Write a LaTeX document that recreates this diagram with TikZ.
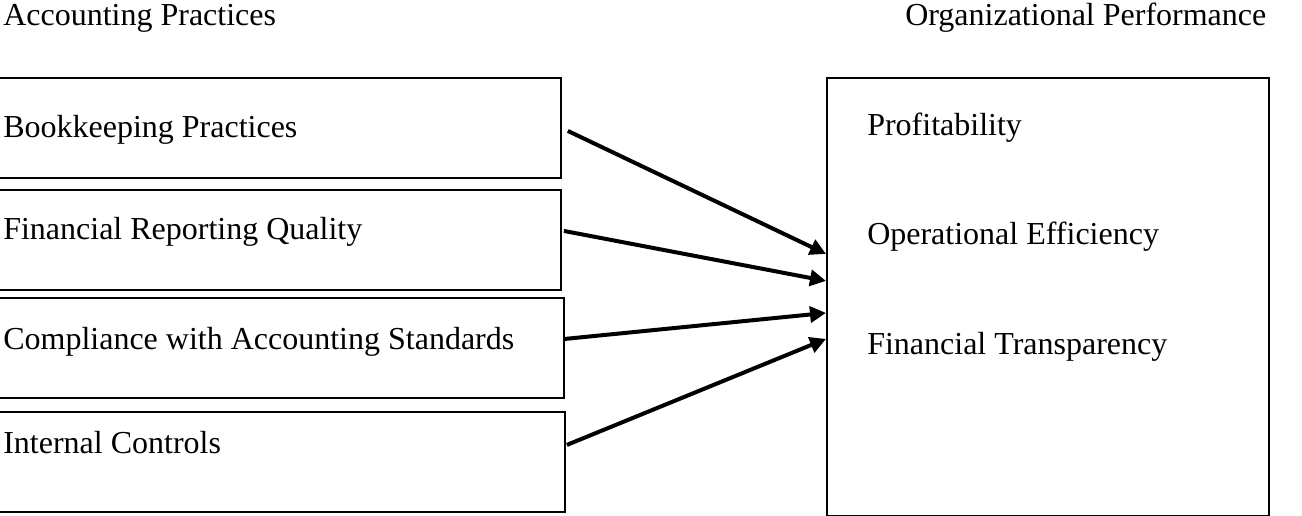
\documentclass[tikz,border=0pt]{standalone}
\usepackage{fontspec}
\setmainfont{Liberation Serif}
\usetikzlibrary{arrows.meta, calc}

\tikzset{
  box/.style={draw, line width=1.4pt, inner sep=0pt, anchor=north west},
  lbl/.style={font=\fontsize{24}{28}\selectfont, anchor=west, inner sep=0pt},
  conn/.style={line width=3pt, -{Triangle[length=12pt,width=12pt]}}
}

\begin{document}
\begin{tikzpicture}[x=0.75pt,y=0.75pt,yscale=-1,xscale=1]
    \useasboundingbox (0,0) rectangle (1302,516);

    % Headings
    \node (hdl) [lbl] at (3,18) {Accounting Practices};
    \node (hdr) [lbl] at (905,18) {Organizational Performance};

    % Left boxes
    \node (bk) [box, minimum width=422.25pt, minimum height=75pt] at (-3,77) {};
    \node (fr) [box, minimum width=422.25pt, minimum height=75pt] at (-3,189) {};
    \node (cs) [box, minimum width=424.5pt, minimum height=75pt] at (-3,297) {};
    \node (ic) [box, minimum width=425.25pt, minimum height=75pt] at (-3,411) {};

    % Text Node
    \node (bkt) [lbl] at (3,130) {Bookkeeping Practices};
    \node (frt) [lbl] at (3,232) {Financial Reporting Quality};
    \node (cst) [lbl] at (3,342) {Compliance with Accounting Standards};
    \node (ict) [lbl] at (3,443) {Internal Controls};

    % Right box
    \node (perf) [box, minimum width=331.5pt, minimum height=328.5pt] at (826,77) {};
    \node (prt) [lbl] at (867,128) {Profitability};
    \node (oet) [lbl] at (867,237) {Operational Efficiency};
    \node (ftt) [lbl] at (867,347) {Financial Transparency};

    %Straight Lines
    \draw [conn] ($(bk.east)+(6,3)$) -- ($(perf.west)+(0,-43)$);
    \draw [conn] ($(fr.east)+(2,-9)$) -- ($(perf.west)+(0,-16)$);
    \draw [conn] ($(cs.east)+(0,-9)$) -- ($(perf.west)+(0,16)$);
    \draw [conn] ($(ic.east)+(1,-17)$) -- ($(perf.west)+(0,42)$);

\end{tikzpicture}
\end{document}
